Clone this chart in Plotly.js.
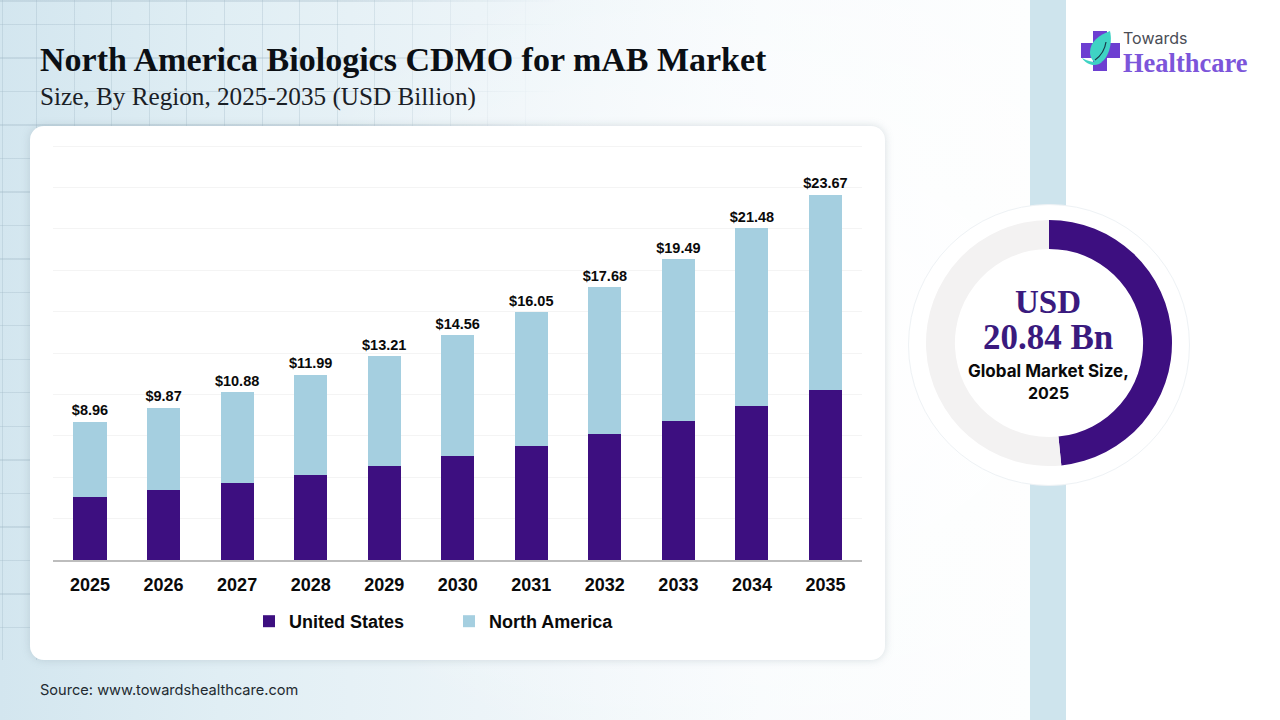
<!DOCTYPE html>
<html>
<head>
<meta charset="utf-8">
<script src="https://cdn.plot.ly/plotly-3.0.1.min.js"></script>
<style>
html,body{margin:0;padding:0;width:1280px;height:720px;overflow:hidden;background:#fff}
#bg,#grid,#card,#stripe,#ring,#logo,#chart{position:absolute}
#bg{left:0;top:0;width:1030px;height:720px;background:
 radial-gradient(ellipse 560px 420px at 780px 360px,rgba(255,255,255,.95),rgba(255,255,255,0) 100%),
 linear-gradient(90deg,#d3e6ef 0,#e0eef4 220px,#ecf4f8 480px,#f8fbfd 760px,#fdfefe 1030px)}
#grid{left:0;top:0;width:560px;height:660px;background-image:
 repeating-linear-gradient(90deg,rgba(150,175,190,.28) 0 1px,transparent 1px 37.6px),
 repeating-linear-gradient(180deg,rgba(150,175,190,.28) 0 1px,transparent 1px 33.5px);
 background-position:36px 0,0 24px;
 -webkit-mask-image:linear-gradient(90deg,#000 0,#000 60%,transparent 100%);mask-image:linear-gradient(90deg,#000 0,#000 60%,transparent 100%)}
#card{left:30px;top:126px;width:855px;height:534px;background:#fff;border-radius:14px;box-shadow:0 0 9px rgba(120,140,150,.28)}
#stripe{left:1030px;top:0;width:36px;height:720px;background:#cee4ed}
#ring{left:908px;top:204px;width:280px;height:280px;border-radius:50%;background:#fff;border:1px solid #eef2f5}
#logo{left:1079px;top:27px;width:46px;height:48px}
#chart{left:0;top:0;width:1280px;height:720px}
</style>
</head>
<body>
<div id="bg"></div><div id="grid"></div><div id="card"></div><div id="stripe"></div><div id="ring"></div>
<div id="chart"></div>
<svg id="logo" viewBox="0 0 46 48">
 <path d="M14 4H28V16H41V31H28V44H14V31H2V16H14Z" fill="#6d3fd1"/>
 <path d="M31 4C20 8 11 15 11 25C11 33 17 38 21 36C29 32 34 17 31 4Z" fill="#3fd3c4"/>
 <path d="M3 31C8 39 18 40 23 35C17 36 10 35 3 31Z" fill="#3fd3c4"/>
 <path d="M27 15C26 22 23 28 16 33" stroke="#173a4a" stroke-width="1.2" fill="none"/>
</svg>
<script>
const years = ['2025','2026','2027','2028','2029','2030','2031','2032','2033','2034','2035'];
const totals = [8.96,9.87,10.88,11.99,13.21,14.56,16.05,17.68,19.49,21.48,23.67];
const unitedStates = [4.07,4.53,4.98,5.50,6.08,6.73,7.37,8.15,8.99,9.96,11.00];
const northAmerica = [4.89,5.34,5.90,6.49,7.13,7.83,8.68,9.53,10.50,11.52,12.67];
const totalLabels = ['$8.96','$9.87','$10.88','$11.99','$13.21','$14.56','$16.05','$17.68','$19.49','$21.48','$23.67'];
const donutLabels = ['Share','Remainder'];
const donutValues = [48.4,51.6];
const PURPLE = '#3d0f80', LIGHT = '#a5cfe0';
const W = 1280, H = 720;
const px = x => x / W, py = y => 1 - y / H;
const SANS = 'Liberation Sans, Arial, sans-serif';
const SERIF = 'Liberation Serif, serif';

const note = (text, x, y, size, family, color, anchor) => ({
  text, x: px(x), y: py(y), xref: 'paper', yref: 'paper', showarrow: false,
  xanchor: anchor || 'left', yanchor: 'middle', align: 'center',
  font: { size, family, color }
});

const traces = [
  { type: 'bar', name: 'United States', x: years, y: unitedStates, marker: { color: PURPLE }, width: 0.45 },
  { type: 'bar', name: 'North America', x: years, y: northAmerica, marker: { color: LIGHT }, width: 0.45 },
  { type: 'scatter', mode: 'markers+text', x: years, y: totals, text: totalLabels, textposition: 'top center',
    marker: { size: 3, opacity: 0 },
    textfont: { size: 14.5, family: SANS, color: '#0a0a0a', weight: 700 }, showlegend: false, hoverinfo: 'skip', cliponaxis: false },
  { type: 'pie', labels: donutLabels, values: donutValues, hole: 0.765, sort: false, direction: 'clockwise', rotation: 0,
    textinfo: 'none', showlegend: false, hoverinfo: 'skip',
    marker: { colors: [PURPLE, '#f3f2f2'], line: { width: 0 } },
    domain: { x: [px(926), px(1172)], y: [py(466), py(220)] } }
];

const layout = {
  width: W, height: H, margin: { l: 0, r: 0, t: 0, b: 0 }, autosize: false,
  paper_bgcolor: 'rgba(0,0,0,0)', plot_bgcolor: 'rgba(0,0,0,0)',
  barmode: 'stack', font: { family: SANS },
  xaxis: { domain: [px(53.25), px(862.25)], type: 'category', range: [-0.5, 10.5], showgrid: false,
    showline: true, linecolor: '#bdbdbd', linewidth: 2, ticks: 'outside', ticklen: 7, tickcolor: 'rgba(0,0,0,0)',
    tickfont: { size: 18, family: SANS, color: '#0a0a0a', weight: 700 }, fixedrange: true },
  yaxis: { domain: [py(560), py(143.9)], range: [0, 26.95], tick0: 0, dtick: 2.68, showticklabels: false,
    gridcolor: '#f4f4f4', gridwidth: 1, zeroline: false, fixedrange: true },
  legend: { orientation: 'h', x: px(249), xanchor: 'left', y: py(621.5), yanchor: 'middle',
    entrywidth: 155, entrywidthmode: 'pixels', itemclick: false, itemdoubleclick: false, traceorder: 'normal',
    font: { size: 18, family: SANS, color: '#0a0a0a', weight: 700 }, bgcolor: 'rgba(0,0,0,0)' },
  annotations: [
    note('<b>North America Biologics CDMO for mAB Market</b>', 38, 59, 34, SERIF, '#0b0f14'),
    note('Size, By Region, 2025-2035 (USD Billion)', 38, 97, 25.2, SERIF, '#1a2026'),
    note('Source: www.towardshealthcare.com', 38, 690, 14.6, 'Inter, sans-serif', '#222a30'),
    note('<b>USD</b>', 1048, 302, 33, SERIF, '#3a1a7e', 'center'),
    note('<b>20.84 Bn</b>', 1048, 337, 35, SERIF, '#3a1a7e', 'center'),
    note('<b>Global Market Size,</b>', 1048, 371, 17, 'Inter, sans-serif', '#0a0a0a', 'center'),
    note('<b>2025</b>', 1048, 393, 16, 'Inter, sans-serif', '#0a0a0a', 'center'),
    note('Towards', 1121, 38, 16, 'Inter, sans-serif', '#4a4d55'),
    note('<b>Healthcare</b>', 1121, 63, 26.5, SERIF, '#7c55da')
  ]
};
Plotly.newPlot('chart', traces, layout, { displayModeBar: false, staticPlot: true });
</script>
</body>
</html>
